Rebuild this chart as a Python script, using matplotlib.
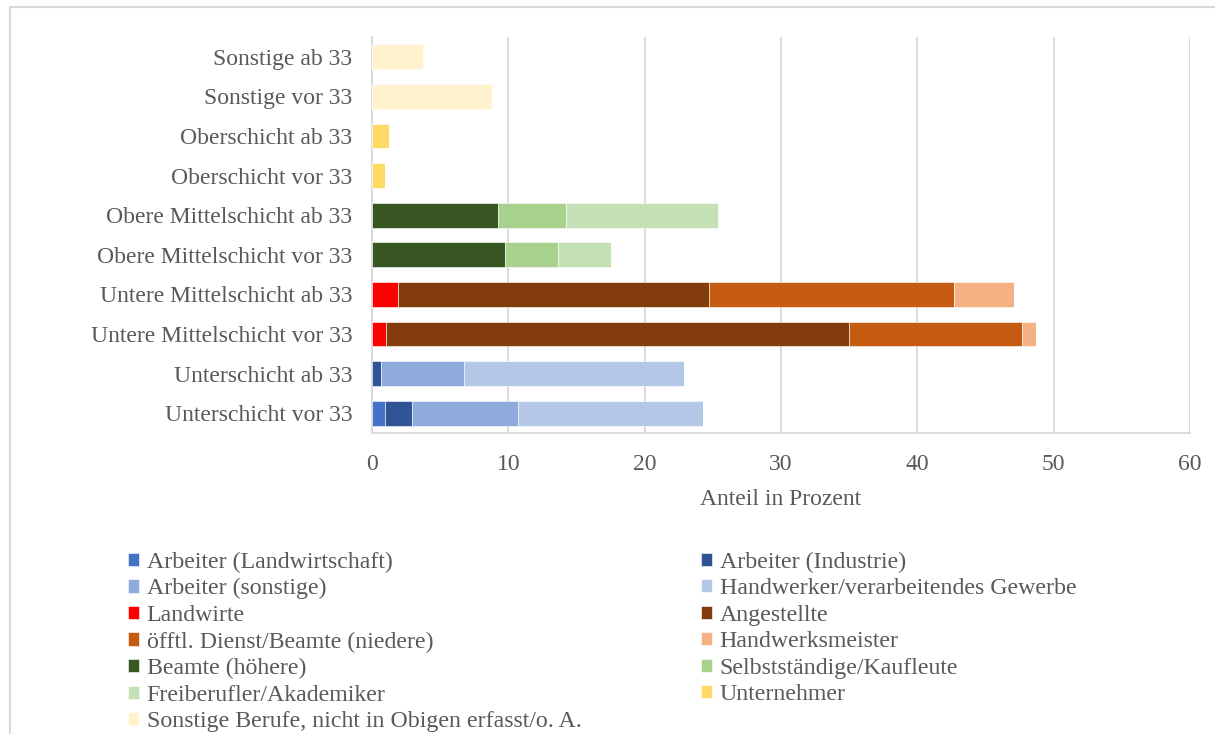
import matplotlib
matplotlib.use("Agg")
import matplotlib.pyplot as plt
from matplotlib.lines import Line2D

plt.rcParams['font.family'] = ['Liberation Serif', 'DejaVu Serif']

# categories, bottom to top
categories = ["Unterschicht vor 33", "Unterschicht ab 33",
              "Untere Mittelschicht vor 33", "Untere Mittelschicht ab 33",
              "Obere Mittelschicht vor 33", "Obere Mittelschicht ab 33",
              "Oberschicht vor 33", "Oberschicht ab 33",
              "Sonstige vor 33", "Sonstige ab 33"]

arbeiter_landw = [0.98, 0, 0, 0, 0, 0, 0, 0, 0, 0]
arbeiter_ind = [1.92, 0.66, 0, 0, 0, 0, 0, 0, 0, 0]
arbeiter_sonst = [7.8, 6.1, 0, 0, 0, 0, 0, 0, 0, 0]
handwerker = [13.6, 16.15, 0, 0, 0, 0, 0, 0, 0, 0]
landwirte = [0, 0, 1.0, 1.87, 0, 0, 0, 0, 0, 0]
angestellte = [0, 0, 34.0, 22.86, 0, 0, 0, 0, 0, 0]
oeffentl = [0, 0, 12.7, 17.97, 0, 0, 0, 0, 0, 0]
hw_meister = [0, 0, 0.97, 4.37, 0, 0, 0, 0, 0, 0]
beamte_hoeh = [0, 0, 0, 0, 9.76, 9.25, 0, 0, 0, 0]
selbststaendige = [0, 0, 0, 0, 3.9, 4.95, 0, 0, 0, 0]
freiberufler = [0, 0, 0, 0, 3.85, 11.2, 0, 0, 0, 0]
unternehmer = [0, 0, 0, 0, 0, 0, 0.96, 1.23, 0, 0]
sonstige = [0, 0, 0, 0, 0, 0, 0, 0, 8.82, 3.74]

series = [
    ("Arbeiter (Landwirtschaft)", arbeiter_landw, "#4472C4"),
    ("Arbeiter (Industrie)", arbeiter_ind, "#2F5597"),
    ("Arbeiter (sonstige)", arbeiter_sonst, "#8FAADC"),
    ("Handwerker/verarbeitendes Gewerbe", handwerker, "#B4C7E7"),
    ("Landwirte", landwirte, "#FF0000"),
    ("Angestellte", angestellte, "#843C0C"),
    ("öfftl. Dienst/Beamte (niedere)", oeffentl, "#C55A11"),
    ("Handwerksmeister", hw_meister, "#F4B183"),
    ("Beamte (höhere)", beamte_hoeh, "#385723"),
    ("Selbstständige/Kaufleute", selbststaendige, "#A9D18E"),
    ("Freiberufler/Akademiker", freiberufler, "#C5E0B4"),
    ("Unternehmer", unternehmer, "#FFD966"),
    ("Sonstige Berufe, nicht in Obigen erfasst/o. A.", sonstige, "#FFF2CC"),
]

txt = "#595959"
grid = "#D9D9D9"

fig = plt.figure(figsize=(12.15, 7.34), dpi=100)
ax = fig.add_axes([0.3062, 0.4101, 0.6732, 0.5395])

ypos = list(range(len(categories)))
left = [0.0] * len(categories)
handles = []
for name, vals, col in series:
    b = ax.barh(ypos, vals, left=left, height=0.63, color=col,
                edgecolor="white", linewidth=0.4, label=name, zorder=3)
    handles.append(b)
    left = [l + v for l, v in zip(left, vals)]

ax.set_xlim(0, 60)
ax.set_ylim(-0.5, len(categories) - 0.5)
ax.set_xticks(range(0, 61, 10))
ax.set_yticks(ypos)
ax.set_yticklabels(categories)
ax.tick_params(axis="y", length=0, pad=14, labelsize=17, labelcolor=txt)
ax.tick_params(axis="x", length=0, pad=15, labelsize=17, labelcolor=txt)
ax.grid(axis="x", color=grid, linewidth=1.3, zorder=0)
for s in ["top", "right"]:
    ax.spines[s].set_visible(False)
for s in ["left", "bottom"]:
    ax.spines[s].set_color(grid)
    ax.spines[s].set_linewidth(1.3)
ax.set_xlabel("Anteil in Prozent", fontsize=17, color=txt, labelpad=10)

# legend: Excel fills row-wise, matplotlib column-wise
order = [0, 2, 4, 6, 8, 10, 12, 1, 3, 5, 7, 9, 11]
leg = fig.legend([handles[i] for i in order], [series[i][0] for i in order],
                 loc="upper left", bbox_to_anchor=(0.1053, 0.2485), ncol=2,
                 frameon=False, fontsize=17.2, labelcolor=txt,
                 handlelength=0.48, handleheight=0.48, handletextpad=0.3,
                 labelspacing=0.23, columnspacing=5.0, borderpad=0, borderaxespad=0)

# outer chart frame
fig.add_artist(Line2D([10 / 1215, 10 / 1215, 1.0], [0.0, 1 - 7 / 734, 1 - 7 / 734],
                      transform=fig.transFigure, color=grid, linewidth=1.5))

fig.savefig("out.png", dpi=100)
